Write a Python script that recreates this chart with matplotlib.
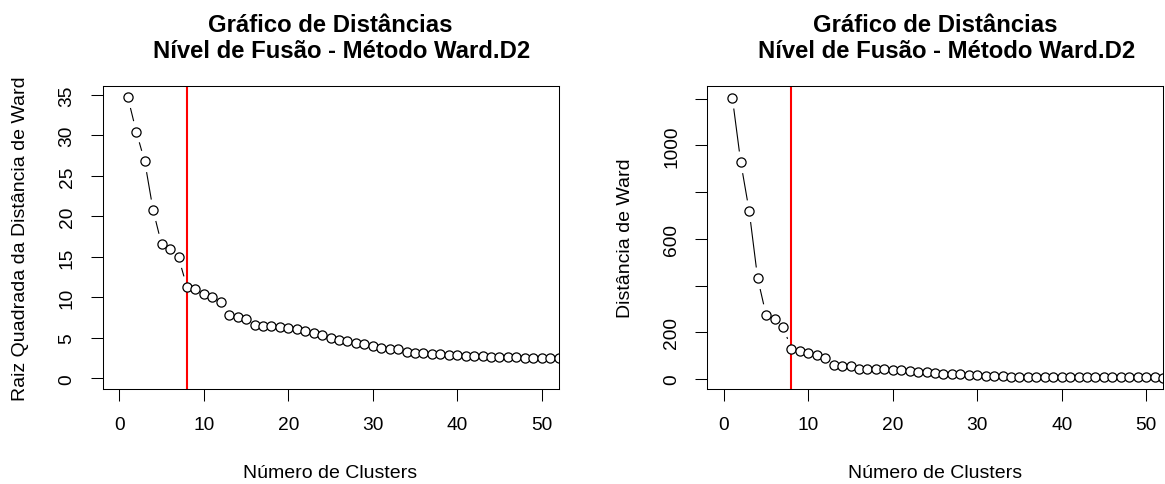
import numpy as np
import matplotlib
matplotlib.use('Agg')
from matplotlib import pyplot as plt

plt.rcParams['font.family'] = ['Liberation Sans', 'DejaVu Sans']

# dados (alturas de fusao, ordem decrescente)
clusters = list(range(1, 53))
raiz_ward = [34.7, 30.45, 26.8, 20.75, 16.55, 16.0, 14.95, 11.3, 11.0, 10.45,
             10.1, 9.5, 7.8, 7.55, 7.35, 6.6, 6.5, 6.45, 6.4, 6.27,
             6.1, 5.9, 5.6, 5.4, 4.96, 4.8, 4.6, 4.4, 4.2, 4.05,
             3.7, 3.64, 3.64, 3.23, 3.15, 3.1, 3.07, 2.98, 2.9, 2.87,
             2.82, 2.74, 2.74, 2.7, 2.65, 2.62, 2.6, 2.57, 2.55, 2.5,
             2.5, 2.48]
dist_ward = [1204.1, 927.2, 718.2, 430.6, 273.9, 256.0, 223.5, 127.7, 121.0, 109.2,
             102.0, 90.3, 60.8, 57.0, 54.0, 43.6, 42.3, 41.6, 41.0, 39.3,
             37.2, 34.8, 31.4, 29.2, 24.6, 23.0, 21.2, 19.4, 17.6, 16.4,
             13.7, 13.2, 13.2, 10.4, 9.9, 9.6, 9.4, 8.9, 8.4, 8.2,
             8.0, 7.5, 7.5, 7.3, 7.0, 6.9, 6.8, 6.6, 6.5, 6.3,
             6.3, 6.2]
corte = 8

W, H = 1165, 485
fig = plt.figure(figsize=(W / 100, H / 100), dpi=100)


def pontos_linhas(ax, x, y, gap_px=11.5):
    # imita o type="b" do R: linhas com folga em volta de cada ponto
    ax.set_autoscale_on(False)
    pts = ax.transData.transform(np.column_stack([x, y]))
    inv = ax.transData.inverted()
    for p0, p1 in zip(pts[:-1], pts[1:]):
        d = p1 - p0
        n = np.hypot(d[0], d[1])
        if n <= 2 * gap_px:
            continue
        u = d / n
        a = inv.transform(p0 + u * gap_px)
        b = inv.transform(p1 - u * gap_px)
        ax.plot([a[0], b[0]], [a[1], b[1]], color='black', lw=0.8)
    ax.plot(x, y, 'o', mfc='white', mec='black', ms=6.6, mew=0.9, linestyle='none')


def painel(left_px, y, ylim, yticks, ylabels, ylab):
    ax = fig.add_axes([left_px / W, 1 - 390 / H, 456 / W, 303 / H])
    ax.set_xlim(-2, 52)
    ax.set_ylim(*ylim)
    ax.axvline(corte, color='red', lw=1.5)
    pontos_linhas(ax, clusters, y)
    ax.set_xticks([0, 10, 20, 30, 40, 50])
    ax.set_xticklabels(['0', '10', '20', '30', '40', '50'])
    ax.set_yticks(yticks)
    ax.set_yticklabels(ylabels, rotation=90, va='center')
    ax.tick_params(direction='out', length=8.3, width=0.75, labelsize=13.8, pad=11)
    for s in ax.spines.values():
        s.set_linewidth(0.75)
    ax.set_xlabel('Número de Clusters', fontsize=14, va='center')
    ax.xaxis.set_label_coords(0.5, -(474 - 390) / 303)
    ax.set_ylabel(ylab, fontsize=14, va='center')
    ax.yaxis.set_label_coords(-82 / 456, 0.5)
    ax.text(0.5, 1.1825, 'Gráfico de Distâncias', transform=ax.transAxes,
            ha='center', va='baseline', fontsize=17.2, fontweight='bold')
    ax.text(0.525, 1.0947, 'Nível de Fusão - Método Ward.D2', transform=ax.transAxes,
            ha='center', va='baseline', fontsize=17.2, fontweight='bold')
    return ax


painel(102.5, raiz_ward, (-1.3, 36.1), [0, 5, 10, 15, 20, 25, 30, 35],
       ['0', '5', '10', '15', '20', '25', '30', '35'],
       'Raiz Quadrada da Distância de Ward')
painel(707, dist_ward, (-43, 1254), [0, 200, 400, 600, 800, 1000, 1200],
       ['0', '200', '', '600', '', '1000', ''],
       'Distância de Ward')

plt.savefig('out.png', dpi=100)
